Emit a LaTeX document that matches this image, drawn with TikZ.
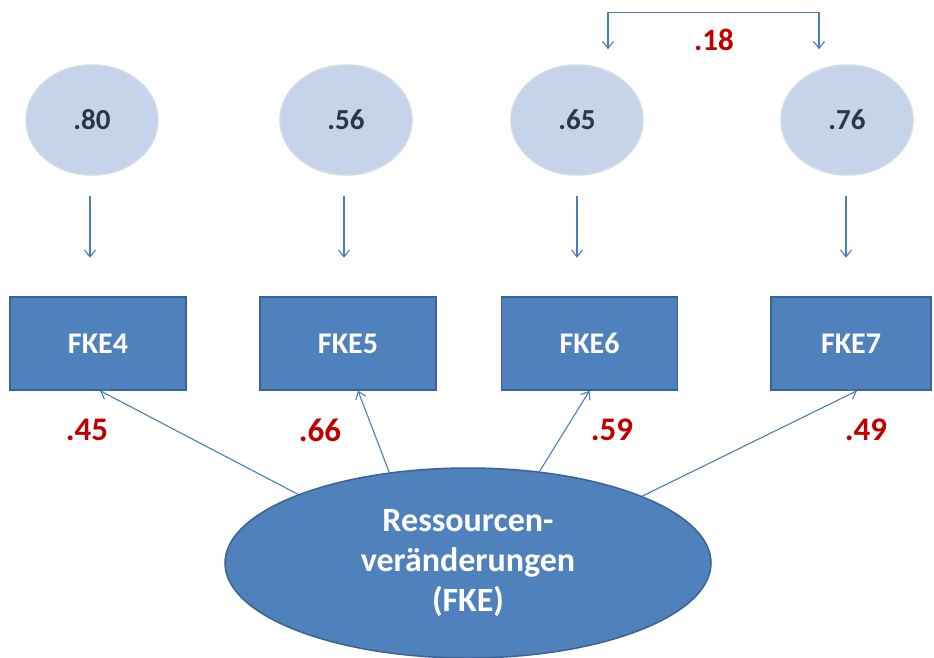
\documentclass[tikz,border=0pt]{standalone}
\usepackage{fontspec}
\setmainfont{Carlito}
\usetikzlibrary{arrows.meta,shapes.geometric}

\definecolor{errfill}{HTML}{C5D4EA}
\definecolor{errline}{HTML}{D3DAE3}
\definecolor{boxfill}{HTML}{4F81BD}
\definecolor{boxline}{HTML}{3A6393}
\definecolor{linkblue}{HTML}{4A7EBB}
\definecolor{coefred}{HTML}{C00000}
\definecolor{errtext}{HTML}{2A3746}

\tikzset{
  errnode/.style={ellipse, fill=errfill, draw=errline, line width=1.5pt,
    minimum width=132pt, minimum height=110pt, inner sep=0pt,
    text=errtext, font=\fontsize{29}{32}\selectfont\bfseries},
  itembox/.style={rectangle, fill=boxfill, draw=boxline, line width=1.5pt,
    minimum width=176pt, minimum height=93pt, inner sep=0pt,
    text=white, font=\fontsize{30}{32}\selectfont\bfseries},
  factor/.style={ellipse, fill=boxfill, draw=boxline, line width=1.5pt,
    minimum width=486pt, minimum height=190pt, inner sep=0pt,
    text=white, align=center, font=\fontsize{34}{40}\selectfont\bfseries},
  coef/.style={text=coefred, font=\fontsize{33}{36}\selectfont\bfseries, inner sep=0pt},
  link/.style={draw=linkblue, line width=1.1pt,
    -{Straight Barb[length=7pt,width=11pt,line width=1.1pt]}},
  covlink/.style={draw=linkblue, line width=1.1pt,
    {Straight Barb[length=7pt,width=11pt,line width=1.1pt]}-{Straight Barb[length=7pt,width=11pt,line width=1.1pt]}}
}

\begin{document}
\begin{tikzpicture}[x=1pt,y=-1pt]
  \useasboundingbox (0,0) rectangle (934,657);
  \begin{scope}
    \clip (0,0) rectangle (934,657);

    % error terms
    \node[errnode] (e4) at (92,120) {.80};
    \node[errnode] (e5) at (346,120) {.56};
    \node[errnode] (e6) at (577,120) {.65};
    \node[errnode] (e7) at (847,120) {.76};

    % indicators
    \node[itembox] (b4) at (98,343.5) {FKE4};
    \node[itembox] (b5) at (348,343.5) {FKE5};
    \node[itembox] (b6) at (589.5,343.5) {FKE6};
    \node[itembox, minimum width=160pt] (b7) at (851,343.5) {FKE7};

    % latent factor
    \node[factor] (f) at (468,563) {Ressourcen-\\ver\"anderungen\\(FKE)};

    % residual paths (vertical, from below each error term)
    \draw[link] ([xshift=-2pt,yshift=-20pt]e4.south) -- ++(0,62);
    \draw[link] ([xshift=-2pt,yshift=-20pt]e5.south) -- ++(0,62);
    \draw[link] ([yshift=-20pt]e6.south) -- ++(0,62);
    \draw[link] ([xshift=-1pt,yshift=-20pt]e7.south) -- ++(0,62);

    % residual covariance
    \draw[covlink] ([xshift=31pt,yshift=15pt]e6.north) -- ++(0,-37)
      -| ([xshift=-28pt,yshift=15pt]e7.north);
    \node[coef, font=\fontsize{31}{34}\selectfont\bfseries] (c67) at (714,40) {.18};

    % loadings
    \draw[link] (f.158.3) -- ([xshift=2pt]b4.south);
    \draw[link] (f.131.1) -- ([xshift=10pt]b5.south);
    \draw[link] (f.52.7) -- (b6.south);
    \draw[link] (f.21.3) -- ([xshift=6pt]b7.south);

    \node[coef] (l4) at (87,430) {.45};
    \node[coef] (l5) at (320,430) {.66};
    \node[coef] (l6) at (612,430) {.59};
    \node[coef] (l7) at (866,430) {.49};
  \end{scope}
\end{tikzpicture}
\end{document}
